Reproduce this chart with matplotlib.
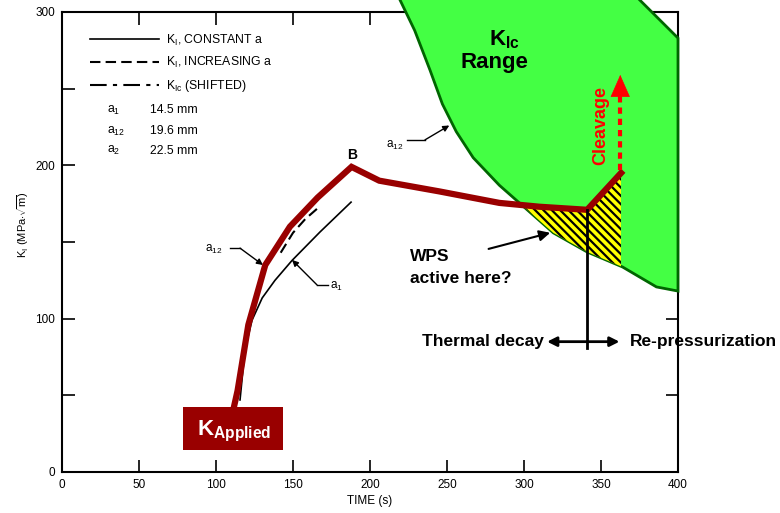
import numpy as np
import matplotlib
matplotlib.use('Agg')
import matplotlib.pyplot as plt
from matplotlib.lines import Line2D
from matplotlib.patches import Polygon, Rectangle

# ---- data ----
# applied K_I (thick red curve)
t_applied = [110, 114, 121, 132, 148, 166, 188, 206, 245, 284, 310, 341, 363]
k_applied = [35, 53, 96, 135, 160, 179, 199, 190, 183, 175.5, 173, 171, 195]
# K_I constant a (a1), thin black
t_a1 = [115.6, 118.8, 123.4, 130, 138.3, 149.4, 167.5, 187.7]
k_a1 = [47, 79.6, 99, 113.5, 125, 138, 156.5, 176]
# K_I increasing a, dashed
t_inc = [142, 150, 158, 166]
k_inc = [143, 156, 165, 172]
# lower/left boundary of the K_Ic range band, then its right edge
kic_t = [217.5, 229, 239, 247, 256, 267, 284, 297, 319, 341, 364, 386, 400, 400, 371]
kic_k = [312, 288, 262, 240, 222, 205, 187, 175.5, 156, 143.5, 133.7, 120.7, 118, 283, 312]
n_lower = 13  # points that belong to the lower boundary

legend_labels = [r'K$_\mathrm{I}$, CONSTANT a', r'K$_\mathrm{I}$, INCREASING a',
                 r'K$_\mathrm{Ic}$ (SHIFTED)']
crack_names = [r'a$_1$', r'a$_{12}$', r'a$_2$']
crack_mm = [14.5, 19.6, 22.5]
xticks = list(range(0, 401, 50))
yticks = [0, 100, 200, 300]

plt.rcParams['font.family'] = ['Liberation Sans', 'DejaVu Sans']
plt.rcParams['mathtext.fontset'] = 'custom'
plt.rcParams['mathtext.rm'] = 'Liberation Sans'
plt.rcParams['mathtext.it'] = 'Liberation Sans:italic'
plt.rcParams['mathtext.bf'] = 'Liberation Sans:bold'
plt.rcParams['hatch.linewidth'] = 1.6

fig = plt.figure(figsize=(7.8, 5.13), dpi=100)
ax = fig.add_axes([62/780, 41/513, 616/780, 460/513])
ax.set_xlim(0, 400)
ax.set_ylim(0, 300)
ax.set_xticks(xticks)
ax.set_yticks(yticks)
ax.set_yticks([50, 150, 250], minor=True)
ax.tick_params(which='both', direction='in', top=True, right=True, length=9, width=1.2,
               labelsize=8.5, pad=5)
for s in ax.spines.values():
    s.set_linewidth(1.5)
ax.set_xlabel('TIME (s)', fontsize=8.5, labelpad=3)
ax.set_ylabel(r'K$_\mathrm{I}$ (MPa$\cdot\sqrt{\mathrm{m}}$)', fontsize=8)
ax.yaxis.set_label_coords(-0.05, 0.537)

# K_Ic range band
ax.add_patch(Polygon(np.column_stack([kic_t, kic_k]), closed=True, fc='#44FF44',
                     ec='#006600', lw=2, zorder=3, clip_on=False))

# hatched WPS region between applied K and the band
tt = np.linspace(295, t_applied[-1], 300)
top = np.interp(tt, t_applied, k_applied)
bot = np.interp(tt, kic_t[:n_lower], kic_k[:n_lower])
ax.fill_between(tt, bot, top, where=top >= bot, facecolor='#FFFF00', edgecolor='black',
                hatch='\\\\\\\\', lw=0, zorder=4)

# curves
ax.plot(t_a1, k_a1, color='black', lw=1.2, zorder=2)
ax.plot(t_inc, k_inc, color='black', lw=1.5, ls=(0, (5, 2.5)), zorder=2)
ax.plot(t_applied, k_applied, color='#990000', lw=4.5, solid_joinstyle='miter', zorder=5)

# legend
handles = [Line2D([], [], color='black', lw=1.2),
           Line2D([], [], color='black', lw=1.5, ls=(0, (5, 2.5))),
           Line2D([], [], color='black', lw=1.5, ls=(0, (8, 3, 2, 3)))]
ax.legend(handles, legend_labels, loc='upper left', bbox_to_anchor=(0.045, 0.955),
          frameon=False, fontsize=8.8, handlelength=5.7, handletextpad=0.55,
          labelspacing=0.62, borderpad=0, borderaxespad=0)
for name, mm, k in zip(crack_names, crack_mm, [236, 222.4, 209.4]):
    ax.text(29.2, k, name, fontsize=8.8, va='center')
    ax.text(57.1, k, f'{mm} mm', fontsize=8.8, va='center')

# small labels on curves
ax.text(188.3, 206.5, 'B', fontsize=10, fontweight='bold', ha='center', va='center')
ax.text(93, 145, r'a$_{12}$', fontsize=8.5, va='center')
ax.plot([109, 115.6], [146, 146], color='black', lw=1)
ax.annotate('', xy=(130.5, 135), xytext=(115.6, 146),
            arrowprops=dict(arrowstyle='-|>', color='black', lw=1, mutation_scale=9,
                            shrinkA=0, shrinkB=0))
ax.text(174, 121, r'a$_1$', fontsize=8.5, va='center')
ax.plot([165.6, 172.7], [122, 122], color='black', lw=1)
ax.annotate('', xy=(149.4, 138.3), xytext=(165.6, 122),
            arrowprops=dict(arrowstyle='-|>', color='black', lw=1, mutation_scale=9,
                            shrinkA=0, shrinkB=0))
ax.text(210.5, 213, r'a$_{12}$', fontsize=8.5, va='center')
ax.plot([224, 235.7], [216.6, 216.6], color='black', lw=1)
ax.annotate('', xy=(251.5, 226), xytext=(235.7, 216.6),
            arrowprops=dict(arrowstyle='-|>', color='black', lw=1, mutation_scale=9,
                            shrinkA=0, shrinkB=0))

# K_Ic Range label
ax.text(287, 282, r'$\mathbf{K}_{\mathbf{Ic}}$', fontsize=16, ha='center', va='center', zorder=6)
ax.text(281, 267, 'Range', fontsize=16, fontweight='bold', ha='center', va='center', zorder=6)

# cleavage arrow
ax.plot([362.5, 362.5], [197, 247], color='red', lw=3, ls=(0, (1.5, 1.2)), zorder=6)
ax.annotate('', xy=(362.5, 259), xytext=(362.5, 246),
            arrowprops=dict(arrowstyle='-|>,head_length=0.75,head_width=0.33', color='red',
                            lw=0.5, mutation_scale=20, shrinkA=0, shrinkB=0), zorder=6)
ax.text(350, 225.7, 'Cleavage', rotation=90, color='red', fontsize=13, fontweight='bold',
        ha='center', va='center', zorder=6)

# WPS
ax.text(226, 133.5, 'WPS\nactive here?', fontsize=12.5, fontweight='bold', ha='left',
        va='center', linespacing=1.55)
ax.annotate('', xy=(317, 156), xytext=(277, 145.5),
            arrowprops=dict(arrowstyle='-|>', color='black', lw=1.5, mutation_scale=16,
                            shrinkA=0, shrinkB=0), zorder=6)

# thermal decay / re-pressurization
ax.plot([341, 341], [171, 81], color='black', lw=2, zorder=6)
ax.annotate('', xy=(315, 85), xytext=(362, 85),
            arrowprops=dict(arrowstyle='<|-|>', color='black', lw=2, mutation_scale=14,
                            shrinkA=0, shrinkB=0), zorder=6)
ax.text(313, 85, 'Thermal decay', fontsize=12.5, fontweight='bold', ha='right', va='center')
ax.text(369, 85, 'Re-pressurization', fontsize=12.5, fontweight='bold', ha='left',
        va='center', clip_on=False)

# K applied box
ax.add_patch(Rectangle((78.6, 14.4), 64.9, 28, fc='#990000', ec='none', zorder=7))
ax.text(111.5, 24, r'$\mathbf{K}_{\mathbf{Applied}}$', color='white', fontsize=16,
        ha='center', va='baseline', zorder=8)

fig.savefig('out.png', dpi=100)
